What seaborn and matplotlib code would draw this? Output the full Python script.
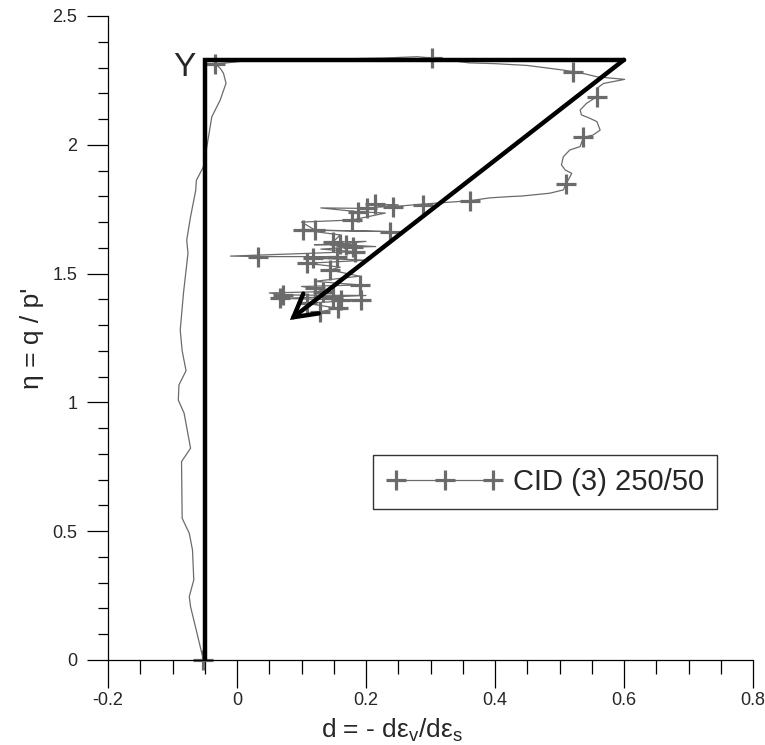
import numpy as np
import pandas as pd
import seaborn as sns
import matplotlib
matplotlib.use("Agg")
import matplotlib.pyplot as plt
from matplotlib.lines import Line2D
from matplotlib.legend_handler import HandlerLine2D
from matplotlib.ticker import MultipleLocator

# ---- data ----
d_path = [-0.052, -0.072, -0.074, -0.067, -0.069, -0.074, -0.085, -0.086, -0.072, -0.082,
          -0.091, -0.090, -0.079, -0.085, -0.088, -0.083, -0.076, -0.078, -0.072, -0.064,
          -0.063, -0.052, -0.045, -0.039, -0.026, -0.017, -0.021, -0.026, -0.032, -0.034,
          -0.016, 0.010, 0.050, 0.150, 0.230, 0.280, 0.303, 0.360, 0.400, 0.450,
          0.506, 0.521, 0.540, 0.558, 0.601, 0.568, 0.558, 0.558, 0.542, 0.532,
          0.534, 0.547, 0.558, 0.563, 0.552, 0.537, 0.532, 0.516, 0.506, 0.503,
          0.509, 0.519, 0.510, 0.506, 0.485, 0.441, 0.423, 0.392, 0.361, 0.289,
          0.242, 0.222, 0.214, 0.250, 0.201, 0.130, 0.188, 0.230, 0.178, 0.100,
          0.121, 0.237, 0.103, 0.160, 0.149, 0.200, 0.160, 0.120, 0.169, 0.215,
          0.180, 0.130, 0.183, -0.010, 0.033, 0.155, 0.118, 0.200, 0.108, 0.160,
          0.144, 0.190, 0.120, 0.191, 0.100, 0.121, 0.134, 0.050, 0.072, 0.200,
          0.149, 0.067, 0.162, 0.193, 0.108, 0.157, 0.129]
eta_path = [0.000, 0.207, 0.246, 0.311, 0.427, 0.492, 0.550, 0.770, 0.822, 0.958,
            1.009, 1.068, 1.123, 1.200, 1.281, 1.424, 1.579, 1.630, 1.721, 1.823,
            1.862, 1.915, 2.019, 2.109, 2.174, 2.239, 2.278, 2.297, 2.310, 2.315,
            2.318, 2.325, 2.330, 2.333, 2.337, 2.342, 2.336, 2.318, 2.315, 2.308,
            2.290, 2.284, 2.275, 2.264, 2.254, 2.238, 2.219, 2.187, 2.161, 2.135,
            2.116, 2.103, 2.090, 2.057, 2.038, 2.029, 1.993, 1.980, 1.954, 1.922,
            1.902, 1.889, 1.847, 1.825, 1.812, 1.801, 1.799, 1.794, 1.783, 1.770,
            1.760, 1.760, 1.769, 1.767, 1.753, 1.755, 1.740, 1.735, 1.708, 1.700,
            1.669, 1.663, 1.669, 1.650, 1.623, 1.625, 1.615, 1.612, 1.611, 1.605,
            1.603, 1.595, 1.585, 1.568, 1.566, 1.566, 1.560, 1.552, 1.540, 1.525,
            1.514, 1.490, 1.470, 1.456, 1.450, 1.443, 1.430, 1.425, 1.417, 1.415,
            1.410, 1.404, 1.398, 1.398, 1.385, 1.365, 1.352]

d_mark = [-0.052, -0.034, 0.303, 0.521, 0.558, 0.537, 0.510, 0.361, 0.289, 0.242,
          0.214, 0.201, 0.188, 0.178, 0.121, 0.237, 0.103, 0.149, 0.160, 0.169,
          0.180, 0.183, 0.033, 0.155, 0.118, 0.108, 0.144, 0.191, 0.121, 0.134,
          0.072, 0.149, 0.067, 0.162, 0.193, 0.108, 0.157, 0.129]
eta_mark = [0.000, 2.315, 2.336, 2.284, 2.187, 2.029, 1.847, 1.783, 1.766, 1.760,
            1.769, 1.753, 1.740, 1.708, 1.669, 1.663, 1.669, 1.623, 1.615, 1.611,
            1.603, 1.585, 1.566, 1.566, 1.560, 1.540, 1.514, 1.456, 1.443, 1.430,
            1.417, 1.410, 1.404, 1.398, 1.398, 1.385, 1.365, 1.352]

yield_d = [-0.05, -0.05, 0.60]
yield_eta = [0.0, 2.33, 2.33]
arrow_start = (0.60, 2.33)
arrow_end = (0.082, 1.32)
yield_label = "Y"
series_label = "CID (3) 250/50"
x_ticks = [-0.2, 0, 0.2, 0.4, 0.6, 0.8]
x_ticklabels = ["-0.2", "0", "0.2", "0.4", "0.6", "0.8"]
y_ticks = [0, 0.5, 1, 1.5, 2, 2.5]
y_ticklabels = ["0", "0.5", "1", "1.5", "2", "2.5"]

# ---- style ----
sns.set_theme(style="white")
plt.rcParams["font.family"] = ["Liberation Sans", "DejaVu Sans"]
plt.rcParams["mathtext.fontset"] = "custom"
plt.rcParams["mathtext.rm"] = "Liberation Sans"
plt.rcParams["mathtext.it"] = "Liberation Sans:italic"

GRAY = "#6b6b6b"

fig = plt.figure(figsize=(7.65, 7.45), dpi=100)
ax = fig.add_axes([108 / 765, 85 / 745, 645 / 765, 644 / 745])

path_df = pd.DataFrame({"d": d_path, "eta": eta_path})
mark_df = pd.DataFrame({"d": d_mark, "eta": eta_mark})
yield_df = pd.DataFrame({"d": yield_d, "eta": yield_eta})

sns.lineplot(data=path_df, x="d", y="eta", sort=False, estimator=None,
             color=GRAY, lw=0.9, ax=ax)
sns.lineplot(data=mark_df, x="d", y="eta", sort=False, estimator=None,
             color=GRAY, linestyle="none", marker="+", markersize=15,
             markeredgewidth=2.3, markeredgecolor=GRAY, clip_on=False, ax=ax)
sns.lineplot(data=yield_df, x="d", y="eta", sort=False, estimator=None,
             color="black", lw=3.2, solid_joinstyle="miter", ax=ax)
ax.annotate("", xy=arrow_end, xytext=arrow_start,
            arrowprops=dict(arrowstyle="->,head_length=0.8,head_width=0.45",
                            lw=3.2, color="black", mutation_scale=20,
                            shrinkA=0, shrinkB=0, joinstyle="miter"))
ax.text(-0.082, 2.30, yield_label, fontsize=24, ha="center", va="center")

ax.set_xlim(-0.2, 0.8)
ax.set_ylim(0, 2.5)
ax.set_xticks(x_ticks)
ax.set_xticklabels(x_ticklabels)
ax.set_yticks(y_ticks)
ax.set_yticklabels(y_ticklabels)
ax.xaxis.set_minor_locator(MultipleLocator(0.05))
ax.yaxis.set_minor_locator(MultipleLocator(0.1))
for s in ["top", "right"]:
    ax.spines[s].set_visible(False)
for s in ["left", "bottom"]:
    ax.spines[s].set_color("black")
    ax.spines[s].set_linewidth(0.9)
ax.tick_params(axis="y", which="major", direction="out", length=15, width=0.9,
               color="black", labelsize=13, pad=7, left=True)
ax.tick_params(axis="y", which="minor", direction="out", length=7.5, width=0.9,
               color="black", left=True)
ax.tick_params(axis="x", which="major", direction="out", length=20, width=0.9,
               color="black", labelsize=13, pad=3, bottom=True)
ax.tick_params(axis="x", which="minor", direction="out", length=10, width=0.9,
               color="black", bottom=True)

ax.set_xlabel(r"d = - dε$_\mathregular{v}$/dε$_\mathregular{s}$", fontsize=19)
ax.set_ylabel("η = q / p'", fontsize=19)
ax.xaxis.set_label_coords(0.44, -0.088)
ax.yaxis.set_label_coords(-0.10, 0.5)

handle = Line2D([], [], color=GRAY, lw=0.9, marker="+", markersize=15,
                markeredgewidth=2.3, markeredgecolor=GRAY)
leg = ax.legend(handles=[handle], labels=[series_label], loc="upper left",
                bbox_to_anchor=(0.211, 0.796), bbox_transform=ax.transData,
                numpoints=3, frameon=True, fancybox=False, edgecolor="#333333",
                framealpha=1, fontsize=21, handlelength=4.0, handletextpad=0.35,
                borderpad=0.45, borderaxespad=0,
                handler_map={Line2D: HandlerLine2D(marker_pad=0.35, numpoints=3)})
leg.get_frame().set_linewidth(1.0)

fig.savefig("out.png", dpi=100)
